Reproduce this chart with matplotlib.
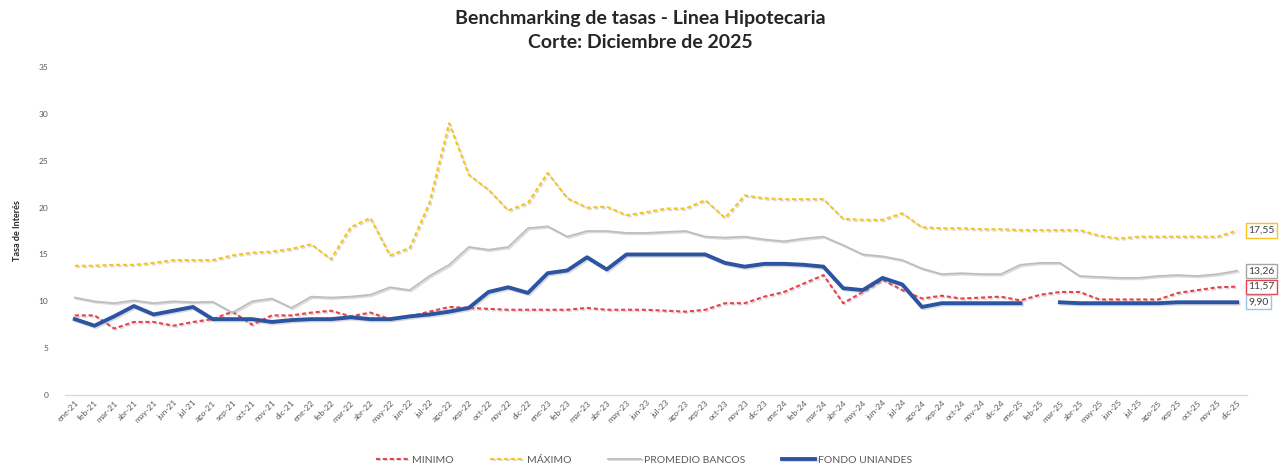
import numpy as np
import matplotlib
matplotlib.use("Agg")
import matplotlib.pyplot as plt
import matplotlib.patheffects as pe

plt.rcParams['font.family'] = ['Lato', 'DejaVu Sans']

# ---- datos ----
meses = ['ene', 'feb', 'mar', 'abr', 'may', 'jun', 'jul', 'ago', 'sep', 'oct', 'nov', 'dic']
anios = ['21', '22', '23', '24', '25']
etiquetas = [m + '-' + a for a in anios for m in meses]

minimo = [8.5, 8.5, 7.1, 7.8, 7.8, 7.4, 7.8, 8.1, 8.9, 7.5, 8.5, 8.5,
          8.8, 9.0, 8.4, 8.8, 8.1, 8.4, 8.9, 9.4, 9.3, 9.2, 9.1, 9.1,
          9.1, 9.1, 9.3, 9.1, 9.1, 9.1, 9.0, 8.9, 9.1, 9.8, 9.8, 10.5,
          11.0, 11.9, 12.8, 9.8, 11.0, 12.3, 11.2, 10.3, 10.6, 10.3, 10.4, 10.5,
          10.1, 10.7, 11.0, 11.0, 10.2, 10.2, 10.2, 10.2, 10.9, 11.2, 11.5, 11.57]

maximo = [13.8, 13.8, 13.9, 13.9, 14.1, 14.4, 14.4, 14.4, 14.9, 15.2, 15.3, 15.6,
          16.1, 14.5, 17.9, 18.9, 14.9, 15.7, 20.5, 29.0, 23.5, 21.9, 19.7, 20.5,
          23.7, 21.0, 20.0, 20.1, 19.2, 19.5, 19.9, 19.9, 20.8, 18.9, 21.3, 21.0,
          20.9, 20.9, 20.9, 18.8, 18.7, 18.7, 19.4, 17.9, 17.8, 17.8, 17.7, 17.7,
          17.6, 17.6, 17.6, 17.6, 17.0, 16.7, 16.9, 16.9, 16.9, 16.9, 16.9, 17.55]

promedio = [10.4, 10.0, 9.8, 10.1, 9.8, 10.0, 9.9, 9.95, 8.8, 10.0, 10.3, 9.3,
            10.5, 10.4, 10.5, 10.7, 11.5, 11.2, 12.7, 13.9, 15.8, 15.5, 15.8, 17.8,
            18.0, 16.9, 17.5, 17.5, 17.3, 17.3, 17.4, 17.5, 16.9, 16.8, 16.9, 16.6,
            16.4, 16.7, 16.9, 16.0, 15.0, 14.8, 14.4, 13.5, 12.9, 13.0, 12.9, 12.9,
            13.9, 14.1, 14.1, 12.7, 12.6, 12.5, 12.5, 12.7, 12.8, 12.7, 12.9, 13.26]

fondo = [8.1, 7.4, 8.4, 9.5, 8.6, 9.0, 9.4, 8.1, 8.1, 8.1, 7.8, 8.0,
         8.1, 8.1, 8.3, 8.1, 8.1, 8.4, 8.6, 8.9, 9.3, 11.0, 11.5, 10.9,
         13.0, 13.3, 14.7, 13.4, 15.0, 15.0, 15.0, 15.0, 15.0, 14.1, 13.7, 14.0,
         14.0, 13.9, 13.7, 11.4, 11.2, 12.5, 11.8, 9.4, 9.8, 9.8, 9.8, 9.8,
         9.8, np.nan, 9.9, 9.8, 9.8, 9.8, 9.8, 9.8, 9.9, 9.9, 9.9, 9.9]

x = np.arange(len(etiquetas))

fig = plt.figure(figsize=(12.81, 4.72), dpi=100)
ax = fig.add_axes([0.0507, 0.163, 0.9228, 0.695])

sombra = [pe.SimpleLineShadow(offset=(1.0, -1.0), shadow_color='#888888', alpha=0.3), pe.Normal()]

series = [
    (minimo, 'MINIMO', '#E8414B', (0, (2, 1.3)), 1.5, '#E8414B'),
    (maximo, 'MÁXIMO', '#F7C51E', (0, (2, 1.3)), 1.5, '#F7C51E'),
    (promedio, 'PROMEDIO BANCOS', '#BDBDBD', '-', 1.3, '#A6A6A6'),
    (fondo, 'FONDO UNIANDES', '#2D53A3', '-', 2.8, '#9DC3E6'),
]
for vals, nombre, color, ls, lw, borde in series:
    ax.plot(x, vals, color=color, linestyle=ls, linewidth=lw, label=nombre,
            path_effects=sombra, solid_joinstyle='round')
    v = vals[-1]
    ax.annotate(('%.2f' % v).replace('.', ','), xy=(x[-1], v), xytext=(8, 0),
                textcoords='offset points', va='center', ha='left', fontsize=7.5,
                color='#404040', annotation_clip=False,
                bbox=dict(boxstyle='square,pad=0.25', fc='white', ec=borde, lw=1))

ax.set_xlim(-0.5, len(x) - 0.5)
ax.set_ylim(0, 35)
ax.set_yticks(np.arange(0, 36, 5))
ax.set_xticks(x)
ax.set_xticklabels(etiquetas, rotation=45, ha='right', rotation_mode='anchor',
                   fontsize=6, color='#595959')
ax.tick_params(axis='y', labelsize=6, colors='#595959', length=0, pad=12)
ax.tick_params(axis='x', length=0, pad=3)
for s in ['top', 'right', 'left']:
    ax.spines[s].set_visible(False)
ax.spines['bottom'].set_color('#D9D9D9')
ax.spines['bottom'].set_linewidth(1)

ax.set_ylabel('Tasa de Interés', fontsize=6.5, fontweight='bold', color='#262626', labelpad=12)

fig.suptitle('Benchmarking de tasas - Linea Hipotecaria\nCorte: Diciembre de 2025',
             fontsize=14, fontweight='bold', color='#262626', y=0.978, linespacing=1.45)

leg = ax.legend(loc='upper center', bbox_to_anchor=(0.49, -0.155), ncol=4, frameon=False,
                fontsize=7.5, handlelength=3.2, columnspacing=3.5, handletextpad=0.3)
for t in leg.get_texts():
    t.set_color('#595959')

fig.savefig('out.png', dpi=100)
